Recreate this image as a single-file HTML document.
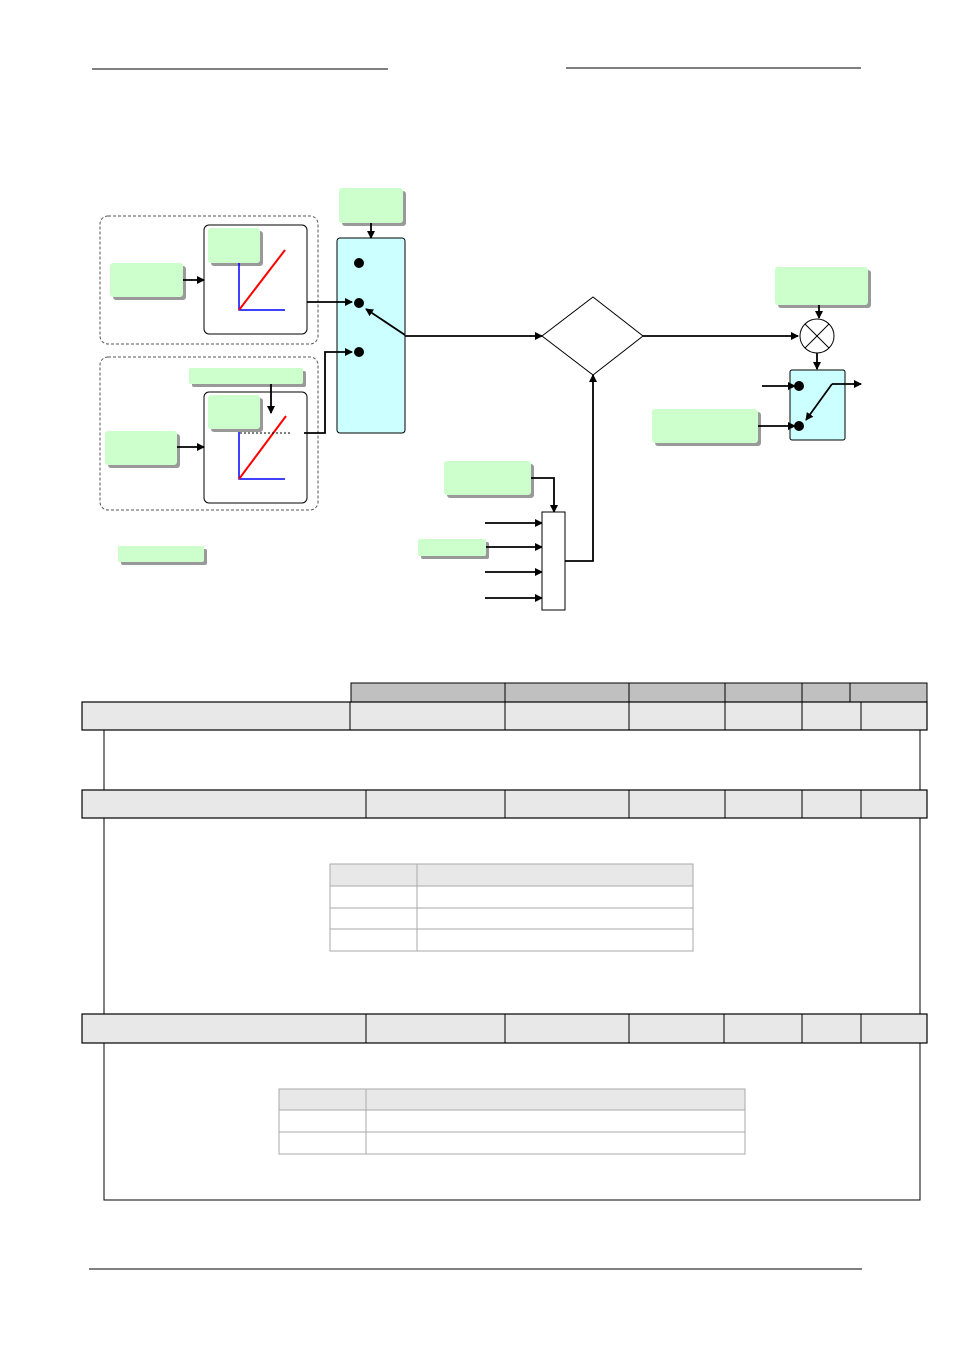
<!DOCTYPE html>
<html><head><meta charset="utf-8"><style>html,body{margin:0;padding:0;background:#fff}svg{display:block}</style></head><body>
<svg width="955" height="1350" viewBox="0 0 955 1350" xmlns="http://www.w3.org/2000/svg">
<defs>
<marker id="a" markerWidth="8" markerHeight="8" refX="7" refY="4" orient="auto" markerUnits="userSpaceOnUse"><path d="M0,0 L8,4 L0,8 z" fill="#000"/></marker>
</defs>
<g stroke="#000" stroke-width="1">
<line x1="92" y1="69" x2="388" y2="69"/>
<line x1="566" y1="68" x2="861" y2="68"/>
<line x1="89" y1="1269" x2="862" y2="1269"/>
</g>
<rect x="100" y="216" width="218" height="128" rx="8" fill="none" stroke="#555" stroke-dasharray="3,2"/>
<rect x="100" y="357" width="218" height="153" rx="8" fill="none" stroke="#555" stroke-dasharray="3,2"/>
<g fill="#999">
<rect x="342" y="191" width="64" height="35" rx="3"/>
<rect x="113" y="266" width="73" height="34" rx="3"/>
<rect x="192" y="371" width="114" height="16" rx="2"/>
<rect x="108" y="434" width="72" height="34" rx="3"/>
<rect x="121" y="549" width="86" height="16" rx="2"/>
<rect x="778" y="270" width="93" height="38" rx="3"/>
<rect x="655" y="412" width="106" height="34" rx="3"/>
<rect x="447" y="464" width="87" height="34" rx="3"/>
<rect x="421" y="542" width="68" height="17" rx="2"/>
</g>
<g fill="#ccffcc">
<rect x="339" y="188" width="64" height="35" rx="3"/>
<rect x="110" y="263" width="73" height="34" rx="3"/>
<rect x="189" y="368" width="114" height="16" rx="2"/>
<rect x="105" y="431" width="72" height="34" rx="3"/>
<rect x="118" y="546" width="86" height="16" rx="2"/>
<rect x="775" y="267" width="93" height="38" rx="3"/>
<rect x="652" y="409" width="106" height="34" rx="3"/>
<rect x="444" y="461" width="87" height="34" rx="3"/>
<rect x="418" y="539" width="68" height="17" rx="2"/>
</g>
<rect x="204" y="225" width="103" height="109" rx="5" fill="#fff" stroke="#000"/>
<rect x="204" y="392" width="103" height="111" rx="5" fill="#fff" stroke="#000"/>
<rect x="211" y="231" width="52" height="35" rx="3" fill="#999"/>
<rect x="208" y="228" width="52" height="35" rx="3" fill="#ccffcc"/>
<rect x="211" y="398" width="52" height="34" rx="3" fill="#999"/>
<rect x="208" y="395" width="52" height="34" rx="3" fill="#ccffcc"/>
<g stroke="#00f" stroke-width="1.5" fill="none">
<path d="M239,263 V310 H285"/>
<path d="M239,432 V479 H285"/>
</g>
<g stroke="#f00" stroke-width="2">
<line x1="239" y1="310" x2="285" y2="250"/>
<line x1="239" y1="479" x2="286" y2="416"/>
</g>
<line x1="240" y1="433" x2="290" y2="433" stroke="#000" stroke-dasharray="2,2"/>
<rect x="337" y="238" width="68" height="195" rx="3" fill="#ccffff" stroke="#000"/>
<rect x="790" y="370" width="55" height="70" rx="2" fill="#ccffff" stroke="#000"/>
<g fill="#000">
<circle cx="359" cy="263" r="5"/><circle cx="359" cy="303" r="5"/><circle cx="359" cy="352" r="5"/>
<circle cx="799" cy="386" r="5"/><circle cx="799" cy="426" r="5"/>
</g>
<g stroke="#000" stroke-width="1.8" fill="none" marker-end="url(#a)">
<line x1="371" y1="223" x2="371" y2="238"/>
<line x1="183" y1="280" x2="204" y2="280"/>
<line x1="307" y1="302" x2="352" y2="302"/>
<line x1="405" y1="335" x2="366" y2="309"/>
<line x1="271" y1="384" x2="271" y2="413"/>
<line x1="177" y1="447" x2="204" y2="447"/>
<path d="M304,433 H325 V352 H352"/>
<line x1="405" y1="336" x2="542" y2="336"/>
<line x1="643" y1="336" x2="798" y2="336"/>
<line x1="819" y1="305" x2="819" y2="318"/>
<line x1="817" y1="353" x2="817" y2="369"/>
<line x1="762" y1="386" x2="795" y2="386"/>
<line x1="758" y1="426" x2="795" y2="426"/>
<line x1="832" y1="384" x2="861" y2="384"/>
<path d="M832,384 L806,420"/>
<path d="M531,478 H554 V512"/>
<line x1="485" y1="523" x2="542" y2="523"/>
<line x1="486" y1="547" x2="542" y2="547"/>
<line x1="485" y1="572" x2="542" y2="572"/>
<line x1="485" y1="598" x2="542" y2="598"/>
<path d="M565,561 H593 V375"/>
</g>
<polygon points="542,336 593,297 643,336 593,375" fill="#fff" stroke="#000"/>
<circle cx="817" cy="336" r="17" fill="#fff" stroke="#000"/>
<g stroke="#000"><line x1="805" y1="324" x2="829" y2="348"/><line x1="829" y1="324" x2="805" y2="348"/></g>
<rect x="542" y="512" width="23" height="98" fill="#fff" stroke="#000"/>
<rect x="351" y="683" width="576" height="19" fill="#c0c0c0" stroke="#000"/>
<g stroke="#000"><line x1="505" y1="683" x2="505" y2="702"/><line x1="629" y1="683" x2="629" y2="702"/><line x1="725" y1="683" x2="725" y2="702"/><line x1="802" y1="683" x2="802" y2="702"/><line x1="850" y1="683" x2="850" y2="702"/></g>
<g fill="#e8e8e8" stroke="#000" stroke-width="1.2">
<rect x="82" y="702" width="845" height="28"/>
<rect x="82" y="790" width="845" height="28"/>
<rect x="82" y="1014" width="845" height="29"/>
</g>
<g stroke="#000">
<line x1="350" y1="702" x2="350" y2="730"/><line x1="505" y1="702" x2="505" y2="730"/><line x1="629" y1="702" x2="629" y2="730"/><line x1="725" y1="702" x2="725" y2="730"/><line x1="802" y1="702" x2="802" y2="730"/><line x1="861" y1="702" x2="861" y2="730"/>
<line x1="366" y1="790" x2="366" y2="818"/><line x1="505" y1="790" x2="505" y2="818"/><line x1="629" y1="790" x2="629" y2="818"/><line x1="725" y1="790" x2="725" y2="818"/><line x1="802" y1="790" x2="802" y2="818"/><line x1="861" y1="790" x2="861" y2="818"/>
<line x1="366" y1="1014" x2="366" y2="1043"/><line x1="505" y1="1014" x2="505" y2="1043"/><line x1="629" y1="1014" x2="629" y2="1043"/><line x1="724" y1="1014" x2="724" y2="1043"/><line x1="802" y1="1014" x2="802" y2="1043"/><line x1="861" y1="1014" x2="861" y2="1043"/>
<line x1="104" y1="730" x2="104" y2="790"/><line x1="920" y1="730" x2="920" y2="790"/>
<line x1="104" y1="818" x2="104" y2="1014"/><line x1="920" y1="818" x2="920" y2="1014"/>
<path d="M104,1043 V1200 H920 V1043" fill="none"/>
</g>
<g stroke="#aaa" fill="none">
<rect x="330" y="864" width="363" height="22" fill="#e8e8e8"/>
<rect x="330" y="864" width="363" height="87"/>
<line x1="330" y1="908" x2="693" y2="908"/><line x1="330" y1="929" x2="693" y2="929"/>
<line x1="417" y1="864" x2="417" y2="951"/>
<rect x="279" y="1089" width="466" height="21" fill="#e8e8e8"/>
<rect x="279" y="1089" width="466" height="65"/>
<line x1="279" y1="1132" x2="745" y2="1132"/>
<line x1="366" y1="1089" x2="366" y2="1154"/>
</g>
</svg>
</body></html>
